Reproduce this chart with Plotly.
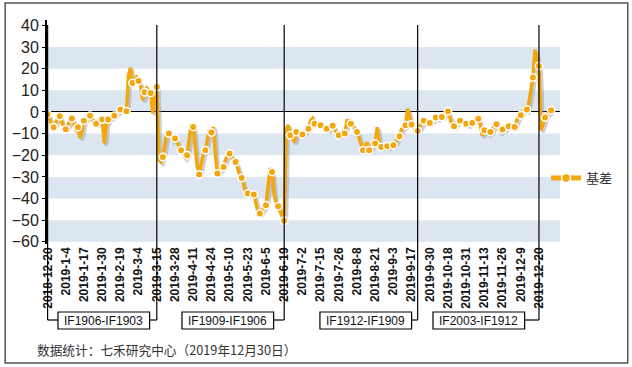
import pandas as pd
import numpy as np
import plotly.graph_objects as go

# ---------------- data ----------------
series_name = "基差"
# 基差 daily values (trading days 2018-12-20 .. 2019-12-30)
basis = [
    -1, -3, -6, -7, -5, -3, -2, -5, -7, -8,
    -6, -4, -3, -5, -8, -7, -12, -9, -4, -3,
    -2, -1.7, -3, -5, -5.4, -4, -3, -3.5, -14.5, -6,
    -3.5, -2.5, -2, -1.7, -0.5, 0.5, 1.2, 2, 1, 0.3,
    17, 20.5, 13.4, 15, 16, 14.3, 12, 5.5, 9.1, 11,
    10, 8.8, -0.5, 9, 11.5, -22, -23, -20.8, -15, -9,
    -10, -11, -13, -12.3, -14, -16, -17.7, -19, -21, -20,
    -14, -5.5, -6.9, -16, -25, -28.9, -24, -19, -17.7, -13,
    -8, -9.5, -7, -20, -28.4, -27, -26, -25.4, -22, -20,
    -19.2, -21, -22, -23.1, -26, -29, -30.5, -34, -37, -37.7,
    -38, -38, -38.1, -42, -46, -46.9, -45, -44, -43.1, -35,
    -26, -27.7, -38, -42, -43.5, -46, -48, -50.3, -8, -6,
    -10.8, -12, -14, -9.2, -9, -10, -10.4, -9, -8, -7.7,
    -4, -3, -5.4, -5, -6, -6.1, -7, -7.5, -7.7, -8,
    -6, -6.4, -8, -10, -10.8, -10, -9, -10, -4, -4,
    -5.4, -6, -8, -9.2, -12, -15, -17.7, -16, -14, -17.7,
    -16, -15, -14.6, -7, -14, -16.2, -16, -16, -15.8, -16,
    -15, -15.4, -14, -12, -11.2, -8, -7, -6.1, 1.5, -3,
    -5.8, -7, -9, -8.8, -7, -5, -4.1, -5, -5, -5.1,
    -4, -3, -2.6, -3, -2, -2.3, -1, 0, 0.3, -3,
    -6, -6.6, -5, -4, -4.1, -4, -5, -5.4, -6, -5,
    -5.1, -4, -3, -3.1, -6, -11, -8.4, -9, -10, -9.2,
    -8, -6, -5.7, -7, -9, -8.1, -8, -7, -6.6, -6,
    -7, -6.9, -4, -2, -1.5, 0, 2, 1.1, 4, 10,
    15.9, 28.8, 25, 21.2, -8.4, -5, -2.6, -1, 0, 0.8,
]

holidays = [
    "2018-12-31", "2019-01-01",
    "2019-02-04", "2019-02-05", "2019-02-06", "2019-02-07", "2019-02-08",
    "2019-04-05", "2019-05-01", "2019-05-02", "2019-05-03", "2019-06-07",
    "2019-09-13", "2019-10-01", "2019-10-02", "2019-10-03", "2019-10-04",
    "2019-10-07",
]

tick_labels = [
    "2018-12-20", "2019-1-4", "2019-1-17", "2019-1-30", "2019-2-19", "2019-3-4",
    "2019-3-15", "2019-3-28", "2019-4-11", "2019-4-24", "2019-5-10", "2019-5-23",
    "2019-6-5", "2019-6-19", "2019-7-2", "2019-7-15", "2019-7-26", "2019-8-8",
    "2019-8-21", "2019-9-3", "2019-9-17", "2019-9-30", "2019-10-18", "2019-10-31",
    "2019-11-13", "2019-11-26", "2019-12-9", "2019-12-20",
]

roll_dates = ["2018-12-20", "2019-3-15", "2019-6-19", "2019-9-20", "2019-12-20"]
contract_labels = ["IF1906-IF1903", "IF1909-IF1906", "IF1912-IF1909", "IF2003-IF1912"]

y_ticks = [40, 30, 20, 10, 0, -10, -20, -30, -40, -50, -60]
band_ranges = [(20, 30), (0, 10), (-20, -10), (-40, -30), (-60, -50)]

source_text = "数据统计：七禾研究中心（2019年12月30日）"

# ---------------- build ----------------
days = pd.bdate_range("2018-12-20", "2019-12-30")
days = [d for d in days if d.strftime("%Y-%m-%d") not in holidays]
labels = [f"{d.year}-{d.month}-{d.day}" for d in days]
assert len(labels) == len(basis), (len(labels), len(basis))
idx = list(range(len(basis)))
pos = {l: i for i, l in enumerate(labels)}

ORANGE = "#F3A70E"
BAND = "#DCE6F1"

fig = go.Figure()

# shadow
fig.add_trace(go.Scatter(
    x=[i + 1.0 for i in idx], y=[v - 1.0 for v in basis], mode="lines",
    line=dict(color="rgba(150,150,150,0.45)", width=4),
    hoverinfo="skip", showlegend=False))
# line
fig.add_trace(go.Scatter(
    x=idx, y=basis, mode="lines",
    line=dict(color=ORANGE, width=3.5),
    showlegend=False))
# markers every third day
fig.add_trace(go.Scatter(
    x=idx[::3], y=basis[::3], mode="markers",
    marker=dict(color=ORANGE, size=7.5, line=dict(color="white", width=1.5)),
    showlegend=False))
# legend entry
fig.add_trace(go.Scatter(
    x=[None], y=[None], mode="lines+markers", name=series_name,
    line=dict(color=ORANGE, width=5),
    marker=dict(color=ORANGE, size=9, line=dict(color="white", width=1.5))))

shapes = []
for lo, hi in band_ranges:
    shapes.append(dict(type="rect", xref="paper", yref="y", x0=0, x1=1, y0=lo, y1=hi,
                       fillcolor=BAND, line=dict(width=0), layer="below"))

# plot geometry (px)
L, R, T, B = 45, 72, 20, 123
W, H = 632 - L - R, 367 - T - B
XR = [-0.3, 253.4]
pxu = W / (XR[1] - XR[0])

def py(p):  # pixel y -> paper y
    return (367 - B - p) / H

def px(p):  # pixel x -> paper x
    return (p - L) / W

roll_idx = [pos[d] for d in roll_dates]
for ri in roll_idx:
    shapes.append(dict(type="line", xref="x", yref="paper", x0=ri, x1=ri,
                       y0=py(25), y1=py(320), line=dict(color="black", width=1.2)))

box_centers_px = [102, 226.5, 365, 478.5]
box_w = 92
for k, (lab, cx) in enumerate(zip(contract_labels, box_centers_px)):
    ci = XR[0] + (cx - L) / pxu
    half = (box_w / 2) / pxu
    right_roll = roll_idx[k + 1]
    shapes.append(dict(type="line", xref="x", yref="paper", x0=ci + half, x1=right_roll,
                       y0=py(320), y1=py(320), line=dict(color="black", width=1.2)))
    if k == 0:
        shapes.append(dict(type="line", xref="x", yref="paper", x0=roll_idx[0], x1=ci - half,
                           y0=py(320), y1=py(320), line=dict(color="black", width=1.2)))
    shapes.append(dict(type="rect", xref="x", yref="paper", x0=ci - half, x1=ci + half,
                       y0=py(312), y1=py(329), fillcolor="white",
                       line=dict(color="black", width=1.2)))

# outer border
shapes.append(dict(type="rect", xref="paper", yref="paper", x0=px(3), x1=px(628),
                   y0=py(363), y1=py(3), line=dict(color="#555555", width=1.5),
                   fillcolor="rgba(0,0,0,0)", layer="below"))

annotations = []
for k, (lab, cx) in enumerate(zip(contract_labels, box_centers_px)):
    annotations.append(dict(xref="paper", yref="paper", x=px(cx), y=py(320.5),
                            text=lab, showarrow=False,
                            font=dict(family="Arial, Liberation Sans", size=12, color="#111111"),
                            xanchor="center", yanchor="middle"))
annotations.append(dict(xref="paper", yref="paper", x=px(33), y=py(349), text=source_text,
                        showarrow=False, xanchor="left", yanchor="middle",
                        font=dict(family="Noto Sans CJK SC", size=12.7, color="#333333")))

fig.update_layout(
    width=632, height=367,
    margin=dict(l=L, r=R, t=T, b=B),
    paper_bgcolor="white", plot_bgcolor="white",
    shapes=shapes, annotations=annotations,
    showlegend=True,
    legend=dict(x=px(546), y=py(178), xanchor="left", yanchor="middle",
                font=dict(family="Noto Sans CJK SC", size=13, color="#333333"),
                bgcolor="rgba(0,0,0,0)", itemwidth=30, borderwidth=0),
    xaxis=dict(range=XR, tickmode="array", tickvals=[pos[t] for t in tick_labels],
               ticktext=tick_labels, tickangle=-90, showgrid=False, zeroline=False,
               showline=False, ticks="",
               tickfont=dict(family="Arial, Liberation Sans", size=12, color="#111111", weight="bold")),
    yaxis=dict(range=[-61, 42.5], tickmode="array", tickvals=y_ticks,
               showgrid=False, zeroline=True, zerolinecolor="black", zerolinewidth=1.2,
               showline=True, linecolor="black", linewidth=2, ticks="outside", ticklen=3,
               tickcolor="black",
               tickfont=dict(family="Arial, Liberation Sans", size=16, color="#222222")),
)

fig.write_html("out.html", config={"displayModeBar": False},
               post_script="document.body.style.margin='0';document.body.style.padding='0';")
